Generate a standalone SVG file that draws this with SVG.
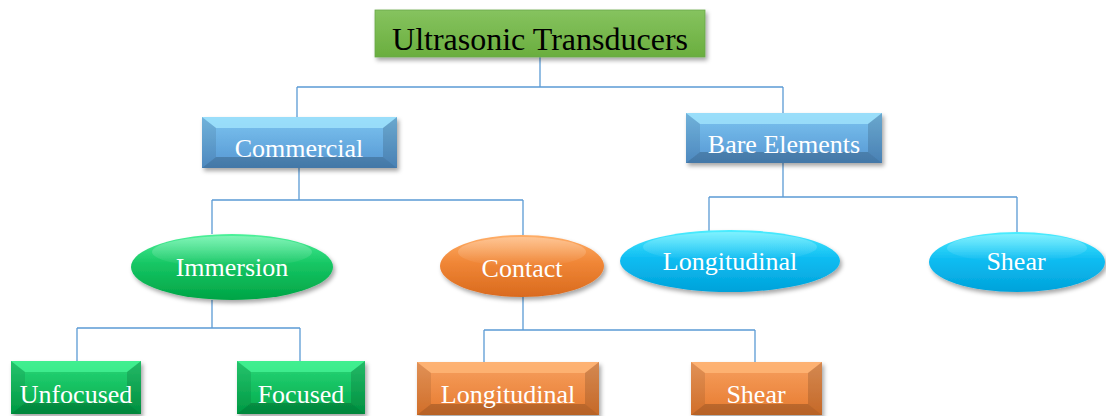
<svg xmlns="http://www.w3.org/2000/svg" width="1106" height="416" viewBox="0 0 1106 416">
<defs>
<filter id="sh" x="-10%" y="-20%" width="125%" height="150%"><feDropShadow dx="2" dy="3" stdDeviation="2" flood-color="#000" flood-opacity="0.35"/></filter>
<linearGradient id="gTitle" x1="0" y1="0" x2="0" y2="1"><stop offset="0" stop-color="#86c35f"/><stop offset="1" stop-color="#6aae3e"/></linearGradient>
<linearGradient id="gBlue" x1="0" y1="0" x2="0" y2="1"><stop offset="0" stop-color="#7cc4f0"/><stop offset="1" stop-color="#5596d2"/></linearGradient>
<linearGradient id="gGreen" x1="0" y1="0" x2="0" y2="1"><stop offset="0" stop-color="#2ad878"/><stop offset="1" stop-color="#00a84a"/></linearGradient>
<linearGradient id="gOrange" x1="0" y1="0" x2="0" y2="1"><stop offset="0" stop-color="#f7a060"/><stop offset="1" stop-color="#e67a2e"/></linearGradient>
<linearGradient id="eGreen" x1="0" y1="0" x2="0" y2="1"><stop offset="0" stop-color="#4cf29a"/><stop offset="0.45" stop-color="#16c664"/><stop offset="1" stop-color="#00a445"/></linearGradient>
<linearGradient id="eBlue" x1="0" y1="0" x2="0" y2="1"><stop offset="0" stop-color="#4ceeff"/><stop offset="0.45" stop-color="#10bdf2"/><stop offset="1" stop-color="#00a2da"/></linearGradient>
<linearGradient id="eOrange" x1="0" y1="0" x2="0" y2="1"><stop offset="0" stop-color="#ffae68"/><stop offset="0.45" stop-color="#f08636"/><stop offset="1" stop-color="#d96a1e"/></linearGradient>
<linearGradient id="hl" x1="0" y1="0" x2="0" y2="1"><stop offset="0" stop-color="#fff" stop-opacity="0.3"/><stop offset="1" stop-color="#fff" stop-opacity="0"/></linearGradient>
</defs>
<style>
.con{fill:none;stroke:#5b9bd5;stroke-width:1.3}
.bt{fill:#fff;opacity:.25}
.btb{fill:#a6eaff;opacity:.7}
.bto{fill:#ffb678;opacity:.8}
.btg{fill:#50ffa0;opacity:.6}
.bb{fill:#000;opacity:.2}
.bl{fill:#000;opacity:.09}
.br{fill:#000;opacity:.14}
.lbl{font-family:"Liberation Serif","Times New Roman",serif;font-size:26px;fill:#fff;text-anchor:middle}
.ttl{font-family:"Liberation Serif","Times New Roman",serif;font-size:32px;fill:#000;text-anchor:middle}
.hlt{fill:url(#hl)}
</style>

<g id="connectors">
<path class="con" d="M540,57 V87 M297,87 H783 M297,87 V117 M783,87 V113 M299,168 V200 M212,200 H523 M212,200 V234 M523,200 V235 M783,163 V197 M709,197 H1017 M709,197 V231 M1017,197 V232 M212,300 V328 M77,328 H300 M77,328 V361 M300,328 V361 M523,297 V330 M484,330 H755 M484,330 V362 M755,330 V362"/>
</g>

<g id="title">
<rect x="375" y="10" width="330" height="47" fill="url(#gTitle)" stroke="#6aa84a" stroke-width="0.8" filter="url(#sh)"/>
<text class="ttl" x="540" y="50">Ultrasonic Transducers</text>
</g>

<g id="commercial">
<rect x="202" y="117" width="195" height="51" fill="url(#gBlue)" filter="url(#sh)"/>
<polygon class="btb" points="202,117 397,117 383,128 216,128"/>
<polygon class="bb" points="202,168 397,168 383,157 216,157"/>
<polygon class="bl" points="202,117 216,128 216,157 202,168"/>
<polygon class="br" points="397,117 383,128 383,157 397,168"/>
<text class="lbl" x="299" y="157">Commercial</text>
</g>

<g id="bare">
<rect x="686" y="113" width="196" height="50" fill="url(#gBlue)" filter="url(#sh)"/>
<polygon class="btb" points="686,113 882,113 868,124 700,124"/>
<polygon class="bb" points="686,163 882,163 868,152 700,152"/>
<polygon class="bl" points="686,113 700,124 700,152 686,163"/>
<polygon class="br" points="882,113 868,124 868,152 882,163"/>
<text class="lbl" x="784" y="153">Bare Elements</text>
</g>

<g id="immersion">
<ellipse cx="232" cy="267" rx="101" ry="33" fill="url(#eGreen)" filter="url(#sh)"/>
<ellipse class="hlt" cx="232" cy="252" rx="80" ry="16"/>
<text class="lbl" x="232" y="276">Immersion</text>
</g>

<g id="contact">
<ellipse cx="522" cy="266" rx="82" ry="31" fill="url(#eOrange)" filter="url(#sh)"/>
<ellipse class="hlt" cx="522" cy="252" rx="64" ry="15"/>
<text class="lbl" x="522" y="277">Contact</text>
</g>

<g id="bare-longitudinal">
<ellipse cx="730" cy="261" rx="110" ry="31" fill="url(#eBlue)" filter="url(#sh)"/>
<ellipse class="hlt" cx="730" cy="247" rx="87" ry="15"/>
<text class="lbl" x="730" y="270">Longitudinal</text>
</g>

<g id="bare-shear">
<ellipse cx="1017" cy="262" rx="88" ry="30" fill="url(#eBlue)" filter="url(#sh)"/>
<ellipse class="hlt" cx="1017" cy="248" rx="70" ry="14"/>
<text class="lbl" x="1016" y="270">Shear</text>
</g>

<g id="unfocused">
<rect x="11" y="361" width="130" height="53" fill="url(#gGreen)" filter="url(#sh)"/>
<polygon class="btg" points="11,361 141,361 127,372 25,372"/>
<polygon class="bb" points="11,414 141,414 127,403 25,403"/>
<polygon class="bl" points="11,361 25,372 25,403 11,414"/>
<polygon class="br" points="141,361 127,372 127,403 141,414"/>
<text class="lbl" x="76" y="403">Unfocused</text>
</g>

<g id="focused">
<rect x="237" y="361" width="128" height="53" fill="url(#gGreen)" filter="url(#sh)"/>
<polygon class="btg" points="237,361 365,361 351,372 251,372"/>
<polygon class="bb" points="237,414 365,414 351,403 251,403"/>
<polygon class="bl" points="237,361 251,372 251,403 237,414"/>
<polygon class="br" points="365,361 351,372 351,403 365,414"/>
<text class="lbl" x="301" y="403">Focused</text>
</g>

<g id="contact-longitudinal">
<rect x="417" y="362" width="182" height="53" fill="url(#gOrange)" filter="url(#sh)"/>
<polygon class="bto" points="417,362 599,362 585,373 431,373"/>
<polygon class="bb" points="417,415 599,415 585,404 431,404"/>
<polygon class="bl" points="417,362 431,373 431,404 417,415"/>
<polygon class="br" points="599,362 585,373 585,404 599,415"/>
<text class="lbl" x="508" y="403">Longitudinal</text>
</g>

<g id="contact-shear">
<rect x="691" y="362" width="131" height="53" fill="url(#gOrange)" filter="url(#sh)"/>
<polygon class="bto" points="691,362 822,362 808,373 705,373"/>
<polygon class="bb" points="691,415 822,415 808,404 705,404"/>
<polygon class="bl" points="691,362 705,373 705,404 691,415"/>
<polygon class="br" points="822,362 808,373 808,404 822,415"/>
<text class="lbl" x="756" y="403">Shear</text>
</g>
</svg>
